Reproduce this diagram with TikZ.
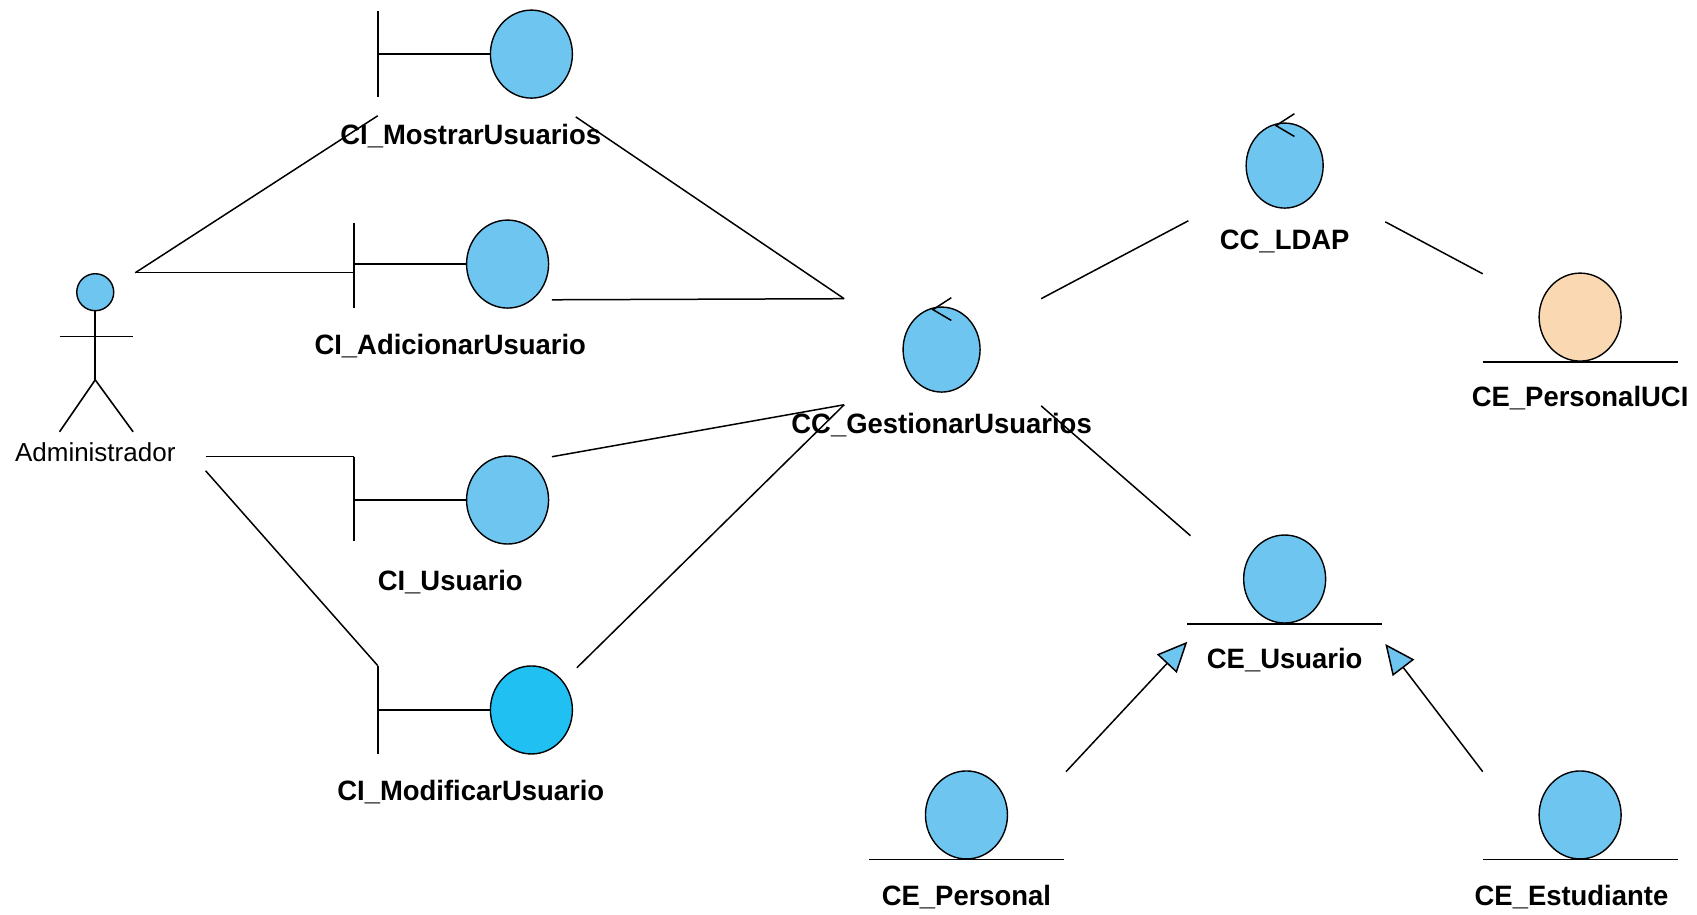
\documentclass[tikz,border=0pt]{standalone}
\usepackage{fontspec}
\setmainfont{Liberation Sans}
\newfontfamily\lblfamily[FakeStretch=0.98]{Liberation Sans}
\usetikzlibrary{shapes.geometric,arrows.meta}
\definecolor{cblue}{RGB}{110,197,240}
\definecolor{cbright}{RGB}{32,192,242}
\definecolor{cpeach}{RGB}{250,216,178}
\tikzset{
  obj/.style={ellipse, draw=black, line width=1.4pt, fill=cblue, inner sep=0pt,
              minimum width=82pt, minimum height=88pt},
  ctl/.style={obj, minimum width=77pt, minimum height=85pt},
  lbl/.style={inner sep=0pt, font=\lblfamily\bfseries\fontsize{28}{30}\selectfont},
  conn/.style={line width=1.5pt, black},
  gen/.style={conn, -{Triangle[length=30pt, width=27pt, fill=cblue]}},
  bar/.style={line width=1.6pt, black},
  chev/.style={line width=1.5pt, black},
}
\begin{document}
\begin{tikzpicture}[x=1.0823pt, y=-1.0823pt]
\useasboundingbox (0,0) rectangle (1568,845);

% ---- actor ----
\node[circle, draw=black, line width=1.4pt, fill=cblue, inner sep=0pt, minimum size=37pt] (adm) at (88,270) {};
\coordinate (hip) at (88,351);
\draw[bar] (adm.south) -- (hip);
\draw[bar] (55,311) -- (123,311);
\draw[bar] (hip) -- (55,399);
\draw[bar] (hip) -- (123,399);
\node[inner sep=0pt, font=\fontsize{26}{28}\selectfont] (admlbl) at (88,418) {Administrador};

% ---- boundary objects ----
\node[obj] (mos) at (491,50) {};
\draw[bar] (349,10) -- (349,90);
\draw[bar] (349,0 |- mos.west) -- (mos.west);
\node[lbl] (mosl) at (435,126) {CI\_MostrarUsuarios};

\node[obj] (adi) at (469,244) {};
\draw[bar] (327,206) -- (327,285);
\draw[bar] (327,0 |- adi.west) -- (adi.west);
\node[lbl] (adil) at (416,320) {CI\_AdicionarUsuario};

\node[obj] (usu) at (469,462) {};
\draw[bar] (327,422) -- (327,500);
\draw[bar] (327,0 |- usu.west) -- (usu.west);
\node[lbl] (usul) at (416,538) {CI\_Usuario};

\node[obj, fill=cbright] (mod) at (491,656) {};
\draw[bar] (349,615) -- (349,697);
\draw[bar] (349,0 |- mod.west) -- (mod.west);
\node[lbl] (modl) at (435,732) {CI\_ModificarUsuario};

% ---- control objects ----
\node[ctl] (ges) at (870,323) {};
\draw[chev, shift={(ges.north)}] (9,-8) -- (-8,3) -- (9,13);
\node[lbl] (gesl) at (870,393) {CC\_GestionarUsuarios};

\node[ctl] (ldap) at (1187,153) {};
\draw[chev, shift={(ldap.north)}] (9,-8) -- (-8,3) -- (9,13);
\node[lbl] (ldapl) at (1187,223) {CC\_LDAP};

% ---- entity objects ----
\node[obj, fill=cpeach] (puci) at (1460,293) {};
\draw[bar] (1370,0 |- puci.south) -- (1550,0 |- puci.south);
\node[lbl] (pucil) at (1460,368) {CE\_PersonalUCI};

\node[obj] (ceu) at (1187,535) {};
\draw[bar] (1097,0 |- ceu.south) -- (1277,0 |- ceu.south);
\node[lbl] (ceul) at (1187,610) {CE\_Usuario};

\node[obj] (cep) at (893,753) {};
\draw[bar] (803,0 |- cep.south) -- (983,0 |- cep.south);
\node[lbl] (cepl) at (893,829) {CE\_Personal};

\node[obj] (cee) at (1460,753) {};
\draw[bar] (1370,0 |- cee.south) -- (1550,0 |- cee.south);
\node[lbl] (ceel) at (1452,829) {CE\_Estudiante};

% ---- connector end points ----
\coordinate (a1) at (125,252);
\coordinate (a2) at (190,422);
\coordinate (a3) at (190,435);
\coordinate (mosA) at (349,107);
\coordinate (adiA) at (327,252);
\coordinate (usuA) at (327,422);
\coordinate (modA) at (349,615);
\coordinate (mosG) at (532,108);
\coordinate (adiG) at (510,277);
\coordinate (usuG) at (510,422);
\coordinate (modG) at (533,617);
\coordinate (gesT) at (780,276);
\coordinate (gesB) at (780,374);
\coordinate (gesR1) at (962,276);
\coordinate (gesR2) at (962,375);
\coordinate (ldapL) at (1098,204);
\coordinate (ldapR) at (1280,205);
\coordinate (puciL) at (1370,253);
\coordinate (ceuT) at (1100,495);
\coordinate (ceuL) at (1097,593);
\coordinate (ceuR) at (1280,595);
\coordinate (cepT) at (985,713);
\coordinate (ceeT) at (1370,713);

% ---- associations ----
\draw[conn] (a1) -- (mosA);
\draw[conn] (a1) -- (adiA);
\draw[conn] (a2) -- (usuA);
\draw[conn] (a3) -- (modA);
\draw[conn] (mosG) -- (gesT);
\draw[conn] (adiG) -- (gesT);
\draw[conn] (usuG) -- (gesB);
\draw[conn] (modG) -- (gesB);
\draw[conn] (gesR1) -- (ldapL);
\draw[conn] (ldapR) -- (puciL);
\draw[conn] (gesR2) -- (ceuT);

% ---- generalizations ----
\draw[gen] (cepT) -- (ceuL);
\draw[gen] (ceeT) -- (ceuR);
\end{tikzpicture}
\end{document}
